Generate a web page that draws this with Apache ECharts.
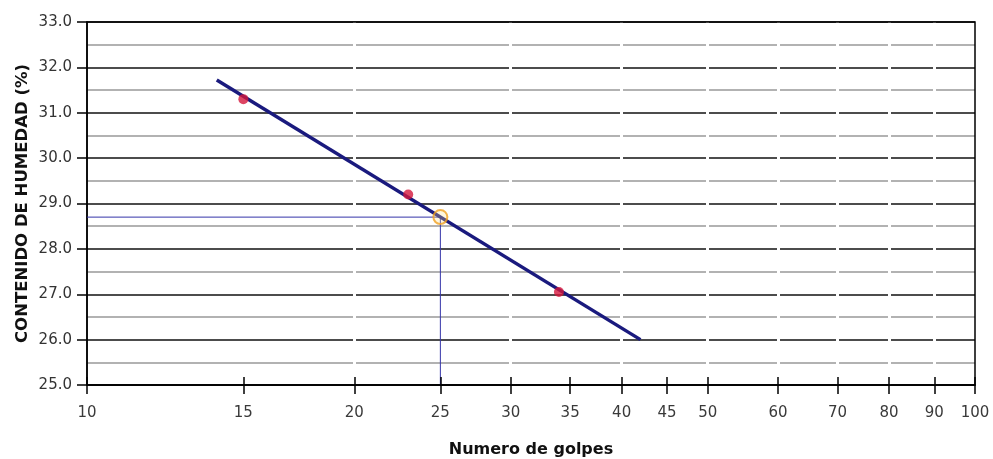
<!DOCTYPE html>
<html>
<head>
<meta charset="utf-8">
<script src="https://cdn.jsdelivr.net/npm/echarts@6/dist/echarts.min.js"></script>
<style>html,body{margin:0;padding:0;background:#fff}#c{width:993px;height:459px}</style>
</head>
<body>
<div id="c"></div>
<script>
// Data
const xTickValues = [10, 15, 20, 25, 30, 35, 40, 45, 50, 60, 70, 80, 90, 100];
const xGapValues = [20, 30, 40, 50, 60, 70, 80, 90];
const measuredPoints = [[15, 31.3], [23, 29.2], [34, 27.05]];
const trendLine = [[14, 31.72], [42, 26.0]];
const liquidLimitPoint = [[25, 28.7]];
const guideLine = [[10, 28.7], [25, 28.7], [25, 25.0]];
const yMin = 25, yMax = 33, yStep = 1;

const chart = echarts.init(document.getElementById('c'), null, {renderer: 'canvas'});
const labelFont = 'DejaVu Sans, sans-serif';
const gridBox = {left: 87, right: 18, top: 22, bottom: 74};

chart.setOption({
  animation: false,
  backgroundColor: '#fff',
  grid: Object.assign({show: true, z: 2, containLabel: false, outerBoundsMode: 'none',
    borderColor: '#000', borderWidth: 1.5, backgroundColor: 'transparent'}, gridBox),
  xAxis: [
    {
      type: 'log', logBase: 10, min: 10, max: 100, z: 3,
      name: 'Numero de golpes', nameLocation: 'middle', nameGap: 57,
      nameTextStyle: {fontFamily: labelFont, fontWeight: 'bold', fontSize: 16, color: '#111'},
      axisLine: {show: true, lineStyle: {color: '#000', width: 1.5}},
      axisTick: {show: true, inside: false, length: 9, customValues: xTickValues, lineStyle: {color: '#000', width: 1.5}},
      axisLabel: {customValues: xTickValues, margin: 21, fontFamily: labelFont, fontSize: 15, color: '#3a3a3a',
        formatter: v => String(Math.round(v))},
      splitLine: {show: false}, minorTick: {show: false}, minorSplitLine: {show: false}
    },
    {
      type: 'log', logBase: 10, min: 10, max: 100, position: 'bottom', z: 3,
      axisLine: {show: false},
      axisTick: {show: true, inside: true, length: 8, customValues: xTickValues, lineStyle: {color: '#000', width: 1.5}},
      axisLabel: {show: false, customValues: xTickValues},
      splitLine: {show: false}
    },
    {
      type: 'log', logBase: 10, min: 10, max: 100, position: 'bottom', z: 1,
      axisLine: {show: false}, axisTick: {show: false, customValues: xGapValues},
      axisLabel: {show: false, customValues: xGapValues},
      splitLine: {show: true, lineStyle: {color: '#fff', width: 3}}
    }
  ],
  yAxis: {
    type: 'value', min: yMin, max: yMax, interval: yStep, z: 0,
    name: 'CONTENIDO DE HUMEDAD (%)', nameLocation: 'middle', nameGap: 56, nameMoveOverlap: false,
    nameTextStyle: {fontFamily: labelFont, fontWeight: 'bold', fontSize: 16.5, color: '#111'},
    axisLine: {show: true, lineStyle: {color: '#000', width: 1.5}},
    axisTick: {show: true, length: 10, lineStyle: {color: '#000', width: 1.5}},
    axisLabel: {margin: 15, fontFamily: labelFont, fontSize: 15, color: '#333', formatter: v => v.toFixed(1)},
    splitLine: {show: true, lineStyle: {color: '#111', width: 1.5}},
    minorTick: {show: false, splitNumber: 2},
    minorSplitLine: {show: true, lineStyle: {color: '#999', width: 1.5}}
  },
  series: [
    {
      type: 'line', data: guideLine, xAxisIndex: 0, symbol: 'none', z: 2,
      lineStyle: {color: '#3434a8', width: 1}, silent: true
    },
    {
      type: 'line', data: trendLine, xAxisIndex: 0, symbol: 'none', z: 3,
      lineStyle: {color: '#1a1a7e', width: 3.5}
    },
    {
      type: 'scatter', data: measuredPoints, xAxisIndex: 0, symbol: 'circle', symbolSize: 10, z: 4,
      itemStyle: {color: '#d4163c'}
    },
    {
      type: 'scatter', data: liquidLimitPoint, xAxisIndex: 0, symbol: 'circle', symbolSize: 14, z: 5,
      itemStyle: {color: 'rgba(255,225,140,0.35)', borderColor: '#f0a020', borderWidth: 2}
    }
  ]
});
</script>
</body>
</html>
